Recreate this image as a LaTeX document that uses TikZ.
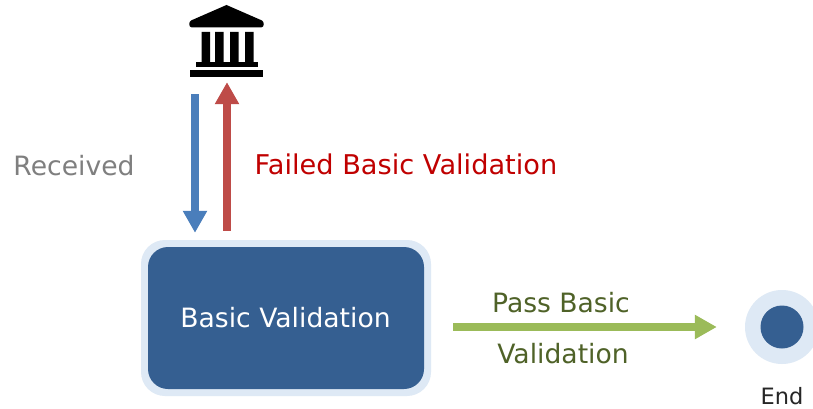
\documentclass[tikz,border=0pt]{standalone}
\usepackage{fontspec}
\setmainfont{DejaVu Sans}
\usetikzlibrary{arrows.meta}
\definecolor{boxblue}{HTML}{355F91}
\definecolor{halo}{HTML}{DEE9F5}
\definecolor{arrowblue}{HTML}{4A7EBB}
\definecolor{arrowred}{HTML}{BE4B48}
\definecolor{arrowgreen}{HTML}{9BBB59}
\definecolor{txtgray}{HTML}{7F7F7F}
\definecolor{txtred}{HTML}{C00000}
\definecolor{txtgreen}{HTML}{4F6228}
\tikzset{
  flow/.style={line width=7.5pt,-{Triangle[width=23pt,length=22pt]}},
  lbl/.style={inner sep=0pt,font=\fontsize{26.6}{30}\selectfont},
  boxhalo/.style={rectangle,fill=halo,rounded corners=24pt,minimum width=290pt,minimum height=156pt,inner sep=0pt},
  boxmain/.style={rectangle,fill=boxblue,rounded corners=20pt,minimum width=276pt,minimum height=142pt,inner sep=0pt},
  bankpart/.style={fill=black,draw=none}
}
\begin{document}
\begin{tikzpicture}[x=1pt,y=-1pt]
\clip (0,0) rectangle (813,409);
\fill[white] (0,0) rectangle (813,409);
% bank icon
\node[rectangle,minimum width=73pt,minimum height=72pt,inner sep=0pt] (bank) at (226.5,41) {};
\fill[bankpart] (226.5,5) -- (262,20.5) .. controls (264.5,22) and (264.5,27.5) .. (261,27.5) -- (192,27.5) .. controls (188.5,27.5) and (188.5,22) .. (191,20.5) -- cycle;
\fill[bankpart] (201.5,32) rectangle (210,62) (215,32) rectangle (223.5,62) (230,32) rectangle (238.5,62) (245,32) rectangle (253.5,62);
\fill[bankpart] (196,62) rectangle (258,67);
\fill[bankpart] (190,70) rectangle (263,77);
% box
\node[boxhalo] (halobox) at (286,318) {};
\node[boxmain] (box) at (286,318) {};
\node[lbl,text=white] (boxlabel) at (285.5,318) {Basic Validation};
% end
\node[circle,fill=halo,minimum size=74pt,inner sep=0pt] (endhalo) at (782,327) {};
\node[circle,fill=boxblue,minimum size=43pt,inner sep=0pt] (endc) at (782,327) {};
\node[inner sep=0pt,font=\fontsize{22.5}{26}\selectfont,text=black!85] (endlabel) at (782,396) {End};
% arrows
\draw[flow,arrowblue] ([xshift=-31.5pt,yshift=-17pt]bank.south) -- ([xshift=-91pt,yshift=14pt]box.north);
\draw[flow,arrowred] ([xshift=-59pt,yshift=16pt]box.north) -- ([xshift=0.5pt,yshift=-5pt]bank.south);
\draw[flow,arrowgreen] ([xshift=29pt,yshift=-9pt]box.east) -- ([xshift=-28pt]endhalo.west);
% labels
\node[lbl,text=txtgray] (received) at (74,166) {Received};
\node[lbl,text=txtred,font=\fontsize{27.2}{30}\selectfont] (failed) at (406,164) {Failed Basic Validation};
\node[lbl,text=txtgreen] (pass) at (561,303) {Pass Basic};
\node[lbl,text=txtgreen] (valid) at (563,354) {Validation};
\end{tikzpicture}
\end{document}
